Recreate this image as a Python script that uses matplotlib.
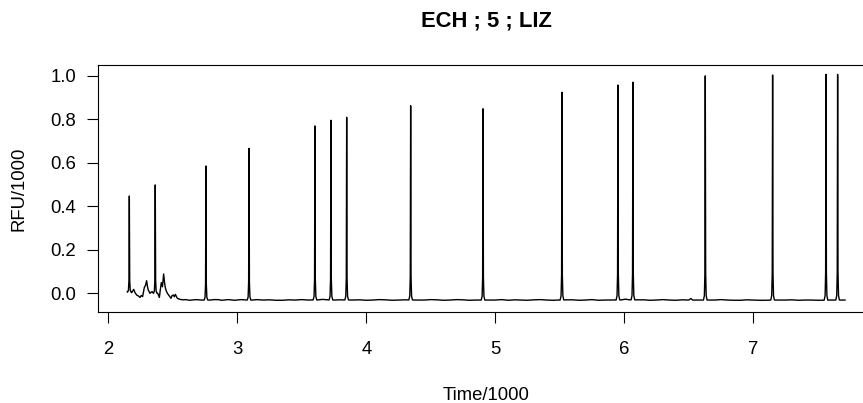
import numpy as np
import matplotlib
matplotlib.use("Agg")
import matplotlib.pyplot as plt

# ------------------------------------------------------------------ #
# Data (time/1000, RFU/1000)
# ------------------------------------------------------------------ #
PEAK_TIME = [2.163, 2.364, 2.757, 3.091, 3.602, 3.726, 3.848, 4.344,
             4.905, 5.517, 5.951, 6.067, 6.628, 7.150, 7.564, 7.654]
PEAK_RFU = [0.447, 0.498, 0.585, 0.666, 0.769, 0.795, 0.809, 0.862,
            0.848, 0.924, 0.957, 0.970, 0.999, 1.003, 1.006, 1.006]

BASE_TIME = [2.147, 2.181, 2.189, 2.197, 2.208, 2.220, 2.233, 2.246, 2.256,
             2.266, 2.279, 2.289, 2.297, 2.304, 2.310, 2.323, 2.339, 2.349,
             2.383, 2.396, 2.404, 2.411, 2.420, 2.429, 2.436, 2.442, 2.450,
             2.458, 2.466, 2.473, 2.486, 2.495, 2.504, 2.512, 2.520, 2.535,
             2.556, 2.58, 2.60, 2.63, 2.65, 2.68, 2.70, 2.72, 2.79, 2.82,
             2.85, 2.88, 2.90, 2.93, 2.95, 2.98, 3.00, 3.03, 3.05, 3.07,
             3.12, 3.15, 3.20, 3.25, 3.30, 3.35, 3.40, 3.45, 3.50, 3.55,
             3.58, 3.63, 3.66, 3.70, 3.75, 3.79, 3.82, 3.88, 3.95, 4.00,
             4.05, 4.10, 4.15, 4.20, 4.25, 4.30, 4.38, 4.45, 4.50, 4.55,
             4.60, 4.65, 4.70, 4.75, 4.80, 4.85, 4.88, 4.94, 5.00, 5.05,
             5.10, 5.15, 5.20, 5.25, 5.30, 5.35, 5.40, 5.45, 5.49, 5.55,
             5.60, 5.65, 5.70, 5.75, 5.80, 5.85, 5.90, 5.93, 5.98, 6.01,
             6.04, 6.10, 6.15, 6.20, 6.25, 6.30, 6.35, 6.40, 6.45, 6.50,
             6.516, 6.53, 6.58, 6.61, 6.66, 6.70, 6.75, 6.80, 6.85, 6.90,
             6.95, 7.00, 7.05, 7.10, 7.13, 7.18, 7.25, 7.30, 7.35, 7.40,
             7.45, 7.50, 7.54, 7.59, 7.61, 7.63, 7.68, 7.711]
BASE_RFU = [0.007, 0.003, 0.010, 0.018, 0.002, -0.008, -0.012, -0.019, -0.010,
            -0.015, 0.026, 0.038, 0.058, 0.030, 0.015, 0.000, 0.008, 0.000,
            0.000, -0.019, 0.020, 0.049, 0.030, 0.089, 0.050, 0.026, 0.010,
            0.000, -0.006, -0.012, -0.023, -0.010, -0.008, -0.016, -0.005, -0.023,
            -0.028, -0.030, -0.029, -0.032, -0.031, -0.029, -0.030, -0.031, -0.031, -0.029,
            -0.029, -0.032, -0.031, -0.029, -0.030, -0.032, -0.031, -0.029, -0.030, -0.031,
            -0.031, -0.029, -0.031, -0.030, -0.032, -0.032, -0.030, -0.031, -0.029, -0.031,
            -0.031, -0.030, -0.028, -0.030, -0.031, -0.030, -0.030, -0.031, -0.030, -0.032,
            -0.031, -0.029, -0.030, -0.032, -0.031, -0.030, -0.031, -0.031, -0.029, -0.030,
            -0.032, -0.031, -0.029, -0.030, -0.032, -0.031, -0.031, -0.031, -0.031, -0.029,
            -0.032, -0.030, -0.031, -0.032, -0.030, -0.029, -0.031, -0.032, -0.031, -0.030,
            -0.030, -0.032, -0.031, -0.029, -0.032, -0.031, -0.031, -0.031, -0.030, -0.027,
            -0.030, -0.030, -0.030, -0.032, -0.031, -0.029, -0.031, -0.032, -0.030, -0.031,
            -0.024, -0.031, -0.031, -0.031, -0.031, -0.031, -0.029, -0.031, -0.032, -0.032,
            -0.030, -0.031, -0.032, -0.032, -0.031, -0.031, -0.031, -0.030, -0.032, -0.031,
            -0.031, -0.032, -0.032, -0.031, -0.031, -0.031, -0.031, -0.031]

X_TICKS = [2, 3, 4, 5, 6, 7]
Y_TICKS = [0.0, 0.2, 0.4, 0.6, 0.8, 1.0]

TITLE = "ECH ; 5 ; LIZ"
XLABEL = "Time/1000"
YLABEL = "RFU/1000"


def build_trace():
    """Merge baseline samples with narrow spikes at each peak."""
    t = list(BASE_TIME)
    y = list(BASE_RFU)
    for c, h in zip(PEAK_TIME, PEAK_RFU):
        b = float(np.interp(c, BASE_TIME, BASE_RFU))
        for dt, frac in [(-0.014, 0.0), (-0.007, 0.02), (-0.003, 0.12),
                         (0.0, 1.0), (0.003, 0.12), (0.007, 0.02), (0.014, 0.0)]:
            t.append(c + dt)
            y.append(b + frac * (h - b))
    order = np.argsort(t, kind="stable")
    return np.asarray(t)[order], np.asarray(y)[order]


plt.rcParams["font.family"] = ["Liberation Sans", "DejaVu Sans"]

W, H = 863, 403
fig = plt.figure(figsize=(W / 100, H / 100), dpi=100)
# plot region runs past the right edge of the picture (cropped R device)
left, right, top, bottom = 98.3, 874.0, 65.0, 312.3
ax = fig.add_axes([left / W, 1 - bottom / H, (right - left) / W, (bottom - top) / H])

tt, yy = build_trace()
ax.plot(tt, yy, color="black", lw=1.0)

ax.set_xlim(1.9225, 7.936)
ax.set_ylim(-0.0873, 1.0491)
ax.set_xticks(X_TICKS)
ax.set_xticklabels([str(v) for v in X_TICKS])
ax.set_yticks(Y_TICKS)
ax.set_yticklabels([f"{v:.1f}" for v in Y_TICKS])
ax.tick_params(axis="both", direction="out", length=7.9, width=0.8,
               colors="black", labelsize=13.3)
ax.tick_params(axis="x", pad=13.0)
ax.tick_params(axis="y", pad=8.0)
for sp in ax.spines.values():
    sp.set_linewidth(0.8)
    sp.set_color("black")

fig.text(486 / W, 1 - 27 / H, TITLE, ha="center", va="baseline",
         fontsize=15.8, fontweight="bold")
fig.text(486 / W, 1 - 400 / H, XLABEL, ha="center", va="baseline", fontsize=13.3)
fig.text(19 / W, 1 - 188.7 / H, YLABEL, ha="center", va="center",
         rotation=90, fontsize=13.3)

fig.savefig("out.png", dpi=100)
